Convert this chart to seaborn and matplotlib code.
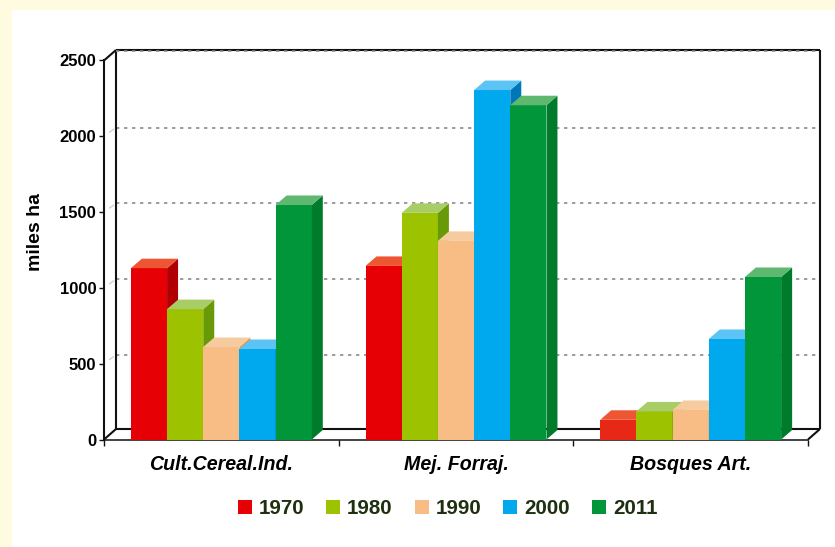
import matplotlib
matplotlib.use("Agg")
import pandas as pd
import seaborn as sns
import matplotlib.pyplot as plt
from matplotlib.patches import Polygon, Rectangle

categories = ["Cult.Cereal.Ind.", "Mej. Forraj.", "Bosques Art."]
years = ["1970", "1980", "1990", "2000", "2011"]
values_1970 = [1130, 1145, 130]
values_1980 = [860, 1495, 185]
values_1990 = [610, 1310, 195]
values_2000 = [597, 2305, 663]
values_2011 = [1547, 2205, 1072]
y_ticks = [0, 500, 1000, 1500, 2000, 2500]

front_colors = ["#E60005", "#9CC200", "#F7BD85", "#00A8EE", "#009639"]
side_colors = ["#B00005", "#689A08", "#D9964F", "#0078B8", "#007A2B"]
top_colors = ["#EE5533", "#A8CC66", "#F7CBA0", "#5CC4F5", "#5EB870"]

W, H = 835, 547
AX_LEFT, AX_RIGHT, AX_TOP, AX_BOTTOM = 104, 808, 60.5, 439.5
Y_MAX = 2500

# pixel depths turned into data units
px_x = 3 / (AX_RIGHT - AX_LEFT)
px_y = Y_MAX / (AX_BOTTOM - AX_TOP)
wall_dx, wall_dy = 12 * px_x, 10.5 * px_y
grid_dy = 8.8 * px_y
bar_dx, bar_dy = 11 * px_x, 9.5 * px_y

df = pd.DataFrame({
    "category": categories * len(years),
    "year": [y for y in years for _ in categories],
    "value": values_1970 + values_1980 + values_1990 + values_2000 + values_2011,
})

sns.set_theme(style="white")
plt.rcParams["font.family"] = ["Liberation Sans", "DejaVu Sans"]

fig = plt.figure(figsize=(W / 100, H / 100), dpi=100, facecolor="#FFFBE0")
fig.add_artist(Rectangle((12 / W, 0), 1, 1 - 10 / H, transform=fig.transFigure,
                         facecolor="white", edgecolor="none", zorder=-5))
ax = fig.add_axes([AX_LEFT / W, 1 - AX_BOTTOM / H,
                   (AX_RIGHT - AX_LEFT) / W, (AX_BOTTOM - AX_TOP) / H])
ax.patch.set_visible(False)

sns.barplot(data=df, x="category", y="value", hue="year", order=categories,
            hue_order=years, palette=dict(zip(years, front_colors)),
            saturation=1, width=0.771, gap=0, linewidth=0, ax=ax)
ax.set_xlim(-0.5, 2.5)
ax.set_ylim(0, Y_MAX)

# back wall, floor and dotted grid
x0, x1 = -0.5, 2.5
wall_style = dict(color="#111111", lw=1.5, clip_on=False, zorder=1.5, solid_capstyle="butt")
ax.plot([x0 + wall_dx, x0 + wall_dx], [wall_dy, Y_MAX + wall_dy], **wall_style)
ax.plot([x1 + wall_dx, x1 + wall_dx], [wall_dy, Y_MAX + wall_dy], **wall_style)
ax.plot([x0 + wall_dx, x1 + wall_dx], [Y_MAX + wall_dy] * 2, **wall_style)
ax.plot([x0 + wall_dx, x1 + wall_dx], [wall_dy, wall_dy], **wall_style)
ax.plot([x0, x0 + wall_dx], [0, wall_dy], **wall_style)
ax.plot([x1, x1 + wall_dx], [0, wall_dy], **wall_style)
ax.plot([x0, x0 + wall_dx], [Y_MAX, Y_MAX + wall_dy], **wall_style)
for tick in y_ticks[1:-1]:
    ax.plot([x0 + wall_dx, x1 + wall_dx], [tick + grid_dy] * 2, color="#8A8A8A",
            lw=1.2, dashes=(2, 2.8), clip_on=False, zorder=1)
    ax.plot([x0 + wall_dx * 0.45, x0 + wall_dx * 0.8], [tick + grid_dy * 0.45, tick + grid_dy * 0.8],
            color="#D0D0D0", lw=1.0, clip_on=False, zorder=1)
ax.plot([x0 + wall_dx, x1 + wall_dx], [Y_MAX + wall_dy - px_y] * 2, color="#8A8A8A",
        lw=1.2, dashes=(2, 2.8), clip_on=False, zorder=2)

# extruded faces, painted left to right so each bar hides the one before
bars = []
for color_idx, container in enumerate(ax.containers):
    for bar in container:
        bars.append((bar, color_idx))
bars.sort(key=lambda item: item[0].get_x())
for order, (bar, color_idx) in enumerate(bars):
    left, right = bar.get_x(), bar.get_x() + bar.get_width()
    height = bar.get_height()
    z = 3 + order
    bar.set_zorder(z)
    ax.add_patch(Polygon([(right, 0), (right + bar_dx, bar_dy), (right + bar_dx, height + bar_dy),
                          (right, height)], closed=True, facecolor=side_colors[color_idx],
                         edgecolor="none", clip_on=False, zorder=z))
    ax.add_patch(Polygon([(left, height), (left + bar_dx, height + bar_dy),
                          (right + bar_dx, height + bar_dy), (right, height)], closed=True,
                         facecolor=top_colors[color_idx], edgecolor="none", clip_on=False, zorder=z))
ax.containers[0][2].set_facecolor("#E72817")

sns.despine(ax=ax, top=True, right=True)
ax.spines["left"].set_linewidth(1.5)
ax.spines["left"].set_color("#111111")
ax.spines["bottom"].set_linewidth(1.1)
ax.spines["bottom"].set_color("#111111")

ax.set_yticks(y_ticks)
ax.set_yticklabels([str(t) for t in y_ticks], fontsize=12, fontweight="bold", color="#000000")
ax.tick_params(axis="y", left=True, length=3.6, width=1.0, pad=2, color="#111111")
ax.set_xticks(range(len(categories)))
ax.set_xticklabels(categories, fontsize=14.1, fontweight="bold", fontstyle="italic", color="#000000")
ax.set_xticks([-0.5, 0.5, 1.5, 2.5], minor=True)
ax.tick_params(axis="x", which="major", bottom=False, pad=5)
ax.tick_params(axis="x", which="minor", bottom=True, length=4, width=1.0, color="#111111")
ax.set_xlabel("")
ax.set_ylabel("")
fig.text(36 / W, 1 - 232 / H, "miles ha", rotation=90, ha="center", va="center",
         fontsize=14, fontweight="bold", color="#000000")

sns.move_legend(ax, "center", bbox_to_anchor=(447.5 / W, 1 - 509 / H),
                bbox_transform=fig.transFigure, ncol=5, frameon=False, title="",
                fontsize=14.8, labelcolor="#1E3010", handlelength=0.68, handleheight=0.68,
                handletextpad=0.34, columnspacing=1.07, borderpad=0, borderaxespad=0)
for text in ax.get_legend().get_texts():
    text.set_fontweight("bold")

fig.savefig("out.png", dpi=100, facecolor=fig.get_facecolor())
plt.close("all")
